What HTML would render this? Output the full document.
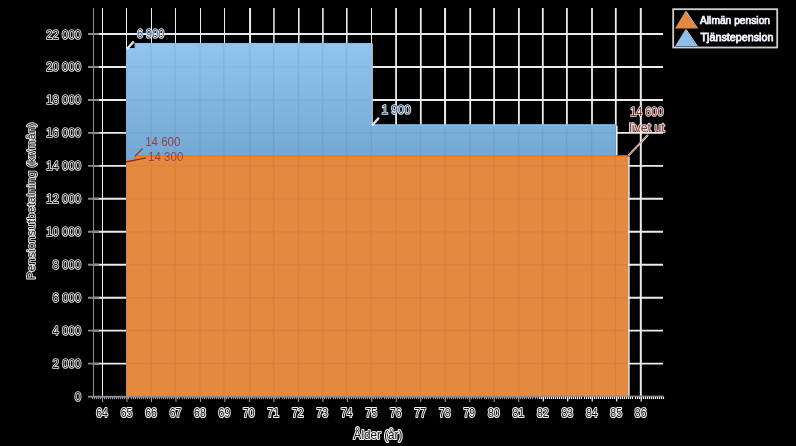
<!DOCTYPE html>
<html><head><meta charset="utf-8"><style>
html,body{margin:0;padding:0;background:#000;}
body{width:796px;height:446px;overflow:hidden;position:relative;font-family:"Liberation Sans",sans-serif;}
svg{position:absolute;left:0;top:0;will-change:transform;}
.h{paint-order:stroke;stroke:#ececec;stroke-width:1.7px;stroke-linejoin:round;}

.hl{paint-order:stroke;stroke:#fafafa;stroke-width:3px;stroke-linejoin:round;}
.hx{paint-order:stroke;stroke:#f4f4f4;stroke-width:2.1px;stroke-linejoin:round;}
.wl{stroke:#f6f6fa;stroke-width:0.75px;}
.hd{paint-order:stroke;stroke:#d0d0d0;stroke-width:1.5px;stroke-linejoin:round;}
</style></head><body>
<svg width="796" height="446" viewBox="0 0 796 446" font-family="Liberation Sans, sans-serif">
<defs>
<linearGradient id="bg" gradientUnits="userSpaceOnUse" x1="0" y1="43.5" x2="0" y2="161.3">
<stop offset="0" stop-color="#91c5ef"/><stop offset="1" stop-color="#73a7d3"/>
</linearGradient>
</defs>
<g fill="#ececec"><rect x="102" y="8" width="1.0" height="388"/><rect x="126" y="8" width="1.0" height="388"/><rect x="151" y="8" width="1.0" height="388"/><rect x="175" y="8" width="1.0" height="388"/><rect x="200" y="8" width="1.0" height="388"/><rect x="224" y="8" width="1.0" height="388"/><rect x="249.05" y="8" width="2.0" height="388"/><rect x="273.15" y="8" width="1.5" height="388"/><rect x="298" y="8" width="1.6" height="388"/><rect x="322.1" y="8" width="1.6" height="388"/><rect x="346" y="8" width="1.6" height="388"/><rect x="371" y="8" width="1.0" height="388"/><rect x="395.15" y="8" width="1.8" height="388"/><rect x="419.9" y="8" width="1.8" height="388"/><rect x="444.05" y="8" width="2.0" height="388"/><rect x="469.3" y="8" width="1.8" height="388"/><rect x="493.2" y="8" width="1.8" height="388"/><rect x="518" y="8" width="1.8" height="388"/><rect x="541.9" y="8" width="1.8" height="388"/><rect x="566" y="8" width="1.8" height="388"/><rect x="591.1" y="8" width="1.8" height="388"/><rect x="614.9" y="8" width="1.8" height="388"/><rect x="639.8" y="8" width="2.0" height="388"/></g>
<path d="M93,363.64H663M93,330.67H663M93,297.71H663M93,264.75H663M93,231.78H663M93,198.82H663M93,165.85H663M93,132.89H663M93,99.93H663M93,66.96H663M93,34H663" stroke="#ebebeb" stroke-width="1.9" fill="none"/>
<path d="M126.0,396.6 L126.0,161.3 L135.1,161.3 L135.1,156 L628.0,156 L628.0,396.6 Z" fill="#e48a40"/>
<path d="M126.0,161.3 L126.0,48.7 L135.1,48.7 L135.1,43.5 L371.8,43.5 L371.8,124.8 L616.0,124.8 L616.0,156 L135.1,156 L135.1,161.3 Z" fill="url(#bg)"/>
<path d="M125.9,43.5V396M151.2,43.5V396M175.1,43.5V396M200,43.5V396M223.9,43.5V396M249.75,43.5V396M273.6,43.5V396M298.5,43.5V396M322.6,43.5V396M346.5,43.5V396M371.4,43.5V396M395.75,43.5V396M420.5,43.5V396M444.75,43.5V396M469.9,43.5V396M493.8,43.5V396M518.6,43.5V396M542.5,43.5V396M566.6,43.5V396M591.7,43.5V396M615.5,43.5V396M126,363.64H628M126,330.67H628M126,297.71H628M126,264.75H628M126,231.78H628M126,198.82H628M126,165.85H628M126,132.89H628M126,99.93H628M126,66.96H628M126,34H628" stroke="rgba(0,0,0,0.06)" stroke-width="1.3" fill="none" clip-path="url(#cp)"/>
<clipPath id="cp"><path d="M126.0,396.6 L126.0,161.3 L135.1,161.3 L135.1,156 L628.0,156 L628.0,396.6 Z"/><path d="M126.0,161.3 L126.0,48.7 L135.1,48.7 L135.1,43.5 L371.8,43.5 L371.8,124.8 L616.0,124.8 L616.0,156 L135.1,156 L135.1,161.3 Z"/></clipPath>
<path d="M126.0,161.3 L135.1,161.3 L135.1,156 L628.0,156" fill="none" stroke="#e8791c" stroke-width="1.6"/>
<path d="M126.0,48.7 L135.1,48.7 L135.1,43.5 L371.8,43.5 M371.8,124.8 L616.0,124.8" fill="none" stroke="#80c2f4" stroke-width="1.2"/>
<path d="M628.9,156.5V396 M616.8,125.8V155" stroke="#f4f4f4" stroke-width="1.5" fill="none"/>
<path d="M372.4,43.5V124.8" stroke="#c4c4c4" stroke-width="1" fill="none"/>
<!-- axes -->
<path d="M93.5,8V397" stroke="#8a8a8a" stroke-width="1.1"/>
<path d="M88,363.64H99M88,330.67H99M88,297.71H99M88,264.75H99M88,231.78H99M88,198.82H99M88,165.85H99M88,132.89H99M88,99.93H99M88,66.96H99M88,34H99" stroke="#8a8a8a" stroke-width="1.9"/>
<rect x="88" y="395.8" width="450.6" height="1.8" fill="#8c8c96"/>
<rect x="538.6" y="395.6" width="124.9" height="1.2" fill="#8c8c96"/>
<path d="M92.5,397v2.2M94.5,397v2.2M96.5,397v2.2M98.5,397v2.2M100.5,397v2.2M102.5,397v2.2M104.5,397v2.2M106.5,397v2.2M108.5,397v2.2M110.5,397v2.2M112.5,397v2.2M114.5,397v2.2M116.5,397v2.2M118.5,397v2.2M120.5,397v2.2M122.5,397v2.2M124.5,397v2.2M126.5,397v2.2M128.5,397v2.2M131.5,397v2.2M133.5,397v2.2M135.5,397v2.2M137.5,397v2.2M139.5,397v2.2M141.5,397v2.2M143.5,397v2.2M145.5,397v2.2M147.5,397v2.2M149.5,397v2.2M151.5,397v2.2M153.5,397v2.2M155.5,397v2.2M157.5,397v2.2M159.5,397v2.2M161.5,397v2.2M163.5,397v2.2M165.5,397v2.2M167.5,397v2.2M169.5,397v2.2M171.5,397v2.2M173.5,397v2.2M175.5,397v2.2M177.5,397v2.2M179.5,397v2.2M182.5,397v2.2M184.5,397v2.2M186.5,397v2.2M188.5,397v2.2M190.5,397v2.2M192.5,397v2.2M194.5,397v2.2M196.5,397v2.2M198.5,397v2.2M200.5,397v2.2M202.5,397v2.2M204.5,397v2.2M206.5,397v2.2M208.5,397v2.2M210.5,397v2.2M212.5,397v2.2M214.5,397v2.2M216.5,397v2.2M218.5,397v2.2M220.5,397v2.2M222.5,397v2.2M224.5,397v2.2M226.5,397v2.2M228.5,397v2.2M231.5,397v2.2M233.5,397v2.2M235.5,397v2.2M237.5,397v2.2M239.5,397v2.2M241.5,397v2.2M243.5,397v2.2M245.5,397v2.2M247.5,397v2.2M249.5,397v2.2M251.5,397v2.2M253.5,397v2.2M255.5,397v2.2M257.5,397v2.2M259.5,397v2.2M261.5,397v2.2M263.5,397v2.2M265.5,397v2.2M267.5,397v2.2M269.5,397v2.2M271.5,397v2.2M273.5,397v2.2M275.5,397v2.2M277.5,397v2.2M279.5,397v2.2M282.5,397v2.2M284.5,397v2.2M286.5,397v2.2M288.5,397v2.2M290.5,397v2.2M292.5,397v2.2M294.5,397v2.2M296.5,397v2.2M298.5,397v2.2M300.5,397v2.2M302.5,397v2.2M304.5,397v2.2M306.5,397v2.2M308.5,397v2.2M310.5,397v2.2M312.5,397v2.2M314.5,397v2.2M316.5,397v2.2M318.5,397v2.2M320.5,397v2.2M322.5,397v2.2M324.5,397v2.2M326.5,397v2.2M328.5,397v2.2M330.5,397v2.2M333.5,397v2.2M335.5,397v2.2M337.5,397v2.2M339.5,397v2.2M341.5,397v2.2M343.5,397v2.2M345.5,397v2.2M347.5,397v2.2M349.5,397v2.2M351.5,397v2.2M353.5,397v2.2M355.5,397v2.2M357.5,397v2.2M359.5,397v2.2M361.5,397v2.2M363.5,397v2.2M365.5,397v2.2M367.5,397v2.2M369.5,397v2.2M371.5,397v2.2M373.5,397v2.2M375.5,397v2.2M377.5,397v2.2M379.5,397v2.2M381.5,397v2.2M384.5,397v2.2M386.5,397v2.2M388.5,397v2.2M390.5,397v2.2M392.5,397v2.2M394.5,397v2.2M396.5,397v2.2M398.5,397v2.2M400.5,397v2.2M402.5,397v2.2M404.5,397v2.2M406.5,397v2.2M408.5,397v2.2M410.5,397v2.2M412.5,397v2.2M414.5,397v2.2M416.5,397v2.2M418.5,397v2.2M420.5,397v2.2M422.5,397v2.2M424.5,397v2.2M426.5,397v2.2M428.5,397v2.2M430.5,397v2.2M433.5,397v2.2M435.5,397v2.2M437.5,397v2.2M439.5,397v2.2M441.5,397v2.2M443.5,397v2.2M445.5,397v2.2M447.5,397v2.2M449.5,397v2.2M451.5,397v2.2M453.5,397v2.2M455.5,397v2.2M457.5,397v2.2M459.5,397v2.2M461.5,397v2.2M463.5,397v2.2M465.5,397v2.2M467.5,397v2.2M469.5,397v2.2M471.5,397v2.2M473.5,397v2.2M475.5,397v2.2M477.5,397v2.2M479.5,397v2.2M481.5,397v2.2M484.5,397v2.2M486.5,397v2.2M488.5,397v2.2M490.5,397v2.2M492.5,397v2.2M494.5,397v2.2M496.5,397v2.2M498.5,397v2.2M500.5,397v2.2M502.5,397v2.2M504.5,397v2.2M506.5,397v2.2M508.5,397v2.2M510.5,397v2.2M512.5,397v2.2M514.5,397v2.2M516.5,397v2.2M518.5,397v2.2M520.5,397v2.2M522.5,397v2.2M524.5,397v2.2M526.5,397v2.2M528.5,397v2.2M530.5,397v2.2M532.5,397v2.2M535.5,397v2.2M537.5,397v2.2" stroke="#9c9cac" stroke-width="1"/>
<path d="M539.5,396.8v2.2M541.5,396.8v2.2M543.5,396.8v2.2M545.5,396.8v2.2M547.5,396.8v2.2M549.5,396.8v2.2M551.5,396.8v2.2M553.5,396.8v2.2M555.5,396.8v2.2M557.5,396.8v2.2M559.5,396.8v2.2M561.5,396.8v2.2M563.5,396.8v2.2M565.5,396.8v2.2M567.5,396.8v2.2M569.5,396.8v2.2M571.5,396.8v2.2M573.5,396.8v2.2M575.5,396.8v2.2M577.5,396.8v2.2M579.5,396.8v2.2M581.5,396.8v2.2M584.5,396.8v2.2M586.5,396.8v2.2M588.5,396.8v2.2M590.5,396.8v2.2M592.5,396.8v2.2M594.5,396.8v2.2M596.5,396.8v2.2M598.5,396.8v2.2M600.5,396.8v2.2M602.5,396.8v2.2M604.5,396.8v2.2M606.5,396.8v2.2M608.5,396.8v2.2M610.5,396.8v2.2M612.5,396.8v2.2M614.5,396.8v2.2M616.5,396.8v2.2M618.5,396.8v2.2M620.5,396.8v2.2M622.5,396.8v2.2M624.5,396.8v2.2M626.5,396.8v2.2M628.5,396.8v2.2M630.5,396.8v2.2M632.5,396.8v2.2M635.5,396.8v2.2M637.5,396.8v2.2M639.5,396.8v2.2M641.5,396.8v2.2M643.5,396.8v2.2M645.5,396.8v2.2M647.5,396.8v2.2M649.5,396.8v2.2M651.5,396.8v2.2M653.5,396.8v2.2M655.5,396.8v2.2M657.5,396.8v2.2M659.5,396.8v2.2M661.5,396.8v2.2M663.5,396.8v2.2" stroke="#f4f4f4" stroke-width="1.2"/>
<path d="M102.51,396V402M126.99,396V402M151.48,396V402M175.96,396V402M200.45,396V402M224.93,396V402M249.42,396V402M273.9,396V402M298.39,396V402M322.88,396V402M347.36,396V402M371.85,396V402M396.33,396V402M420.82,396V402M445.3,396V402M469.79,396V402M494.27,396V402M518.76,396V402" stroke="#a0a0aa" stroke-width="1"/>
<path d="M543.25,397V401.6M567.73,397V401.6M592.22,397V401.6M616.7,397V401.6M641.19,397V401.6" stroke="#f4f4f4" stroke-width="1.2"/>
<!-- labels -->
<g class="h"><text transform="translate(81.2,401.1) scale(0.9,1)" font-size="12.7" text-anchor="end" fill="#161616">0</text><text transform="translate(81.2,368.14) scale(0.9,1)" font-size="12.7" text-anchor="end" fill="#161616">2 000</text><text transform="translate(81.2,335.17) scale(0.9,1)" font-size="12.7" text-anchor="end" fill="#161616">4 000</text><text transform="translate(81.2,302.21) scale(0.9,1)" font-size="12.7" text-anchor="end" fill="#161616">6 000</text><text transform="translate(81.2,269.25) scale(0.9,1)" font-size="12.7" text-anchor="end" fill="#161616">8 000</text><text transform="translate(81.2,236.28) scale(0.9,1)" font-size="12.7" text-anchor="end" fill="#161616">10 000</text><text transform="translate(81.2,203.32) scale(0.9,1)" font-size="12.7" text-anchor="end" fill="#161616">12 000</text><text transform="translate(81.2,170.35) scale(0.9,1)" font-size="12.7" text-anchor="end" fill="#161616">14 000</text><text transform="translate(81.2,137.39) scale(0.9,1)" font-size="12.7" text-anchor="end" fill="#161616">16 000</text><text transform="translate(81.2,104.43) scale(0.9,1)" font-size="12.7" text-anchor="end" fill="#161616">18 000</text><text transform="translate(81.2,71.46) scale(0.9,1)" font-size="12.7" text-anchor="end" fill="#161616">20 000</text><text transform="translate(81.2,38.5) scale(0.9,1)" font-size="12.7" text-anchor="end" fill="#161616">22 000</text></g>
<g class="hx"><text transform="translate(101.96,417.4) scale(0.86,1)" font-size="12.1" text-anchor="middle" fill="#161616">64</text><text transform="translate(126.44,417.4) scale(0.86,1)" font-size="12.1" text-anchor="middle" fill="#161616">65</text><text transform="translate(150.93,417.4) scale(0.86,1)" font-size="12.1" text-anchor="middle" fill="#161616">66</text><text transform="translate(175.41,417.4) scale(0.86,1)" font-size="12.1" text-anchor="middle" fill="#161616">67</text><text transform="translate(199.9,417.4) scale(0.86,1)" font-size="12.1" text-anchor="middle" fill="#161616">68</text><text transform="translate(224.38,417.4) scale(0.86,1)" font-size="12.1" text-anchor="middle" fill="#161616">69</text><text transform="translate(248.87,417.4) scale(0.86,1)" font-size="12.1" text-anchor="middle" fill="#161616">70</text><text transform="translate(273.35,417.4) scale(0.86,1)" font-size="12.1" text-anchor="middle" fill="#161616">71</text><text transform="translate(297.84,417.4) scale(0.86,1)" font-size="12.1" text-anchor="middle" fill="#161616">72</text><text transform="translate(322.33,417.4) scale(0.86,1)" font-size="12.1" text-anchor="middle" fill="#161616">73</text><text transform="translate(346.81,417.4) scale(0.86,1)" font-size="12.1" text-anchor="middle" fill="#161616">74</text><text transform="translate(371.3,417.4) scale(0.86,1)" font-size="12.1" text-anchor="middle" fill="#161616">75</text><text transform="translate(395.78,417.4) scale(0.86,1)" font-size="12.1" text-anchor="middle" fill="#161616">76</text><text transform="translate(420.27,417.4) scale(0.86,1)" font-size="12.1" text-anchor="middle" fill="#161616">77</text><text transform="translate(444.75,417.4) scale(0.86,1)" font-size="12.1" text-anchor="middle" fill="#161616">78</text><text transform="translate(469.24,417.4) scale(0.86,1)" font-size="12.1" text-anchor="middle" fill="#161616">79</text><text transform="translate(493.72,417.4) scale(0.86,1)" font-size="12.1" text-anchor="middle" fill="#161616">80</text><text transform="translate(518.21,417.4) scale(0.86,1)" font-size="12.1" text-anchor="middle" fill="#161616">81</text><text transform="translate(542.69,417.4) scale(0.86,1)" font-size="12.1" text-anchor="middle" fill="#161616">82</text><text transform="translate(567.18,417.4) scale(0.86,1)" font-size="12.1" text-anchor="middle" fill="#161616">83</text><text transform="translate(591.67,417.4) scale(0.86,1)" font-size="12.1" text-anchor="middle" fill="#161616">84</text><text transform="translate(616.15,417.4) scale(0.86,1)" font-size="12.1" text-anchor="middle" fill="#161616">85</text><text transform="translate(640.64,417.4) scale(0.86,1)" font-size="12.1" text-anchor="middle" fill="#161616">86</text></g>
<g class="h">
<text transform="translate(378,439.2) scale(0.97,1)" font-size="12.1" text-anchor="middle" class="hx" fill="#161616">Ålder (år)</text>
<text class="h" transform="translate(34.5,201) rotate(-90) scale(1.12,1)" font-size="10.8" text-anchor="middle" fill="#161616">Pensionsutbetalning (kr/mån)</text>
</g>
<!-- data labels -->
<g fill="none">
<path d="M126.7,49.2 L133.8,41.4 M372.1,125.4 L378.9,117.8" stroke="#f2f6fa" stroke-width="2.3"/>
<path d="M126.7,49.2 L133.8,41.4 M372.1,125.4 L378.9,117.8" stroke="#5a88bc" stroke-width="0.6" stroke-dasharray="1 1.2"/>
<path d="M126.0,161.9 L146,157.8" stroke="#8a2e2e" stroke-width="1.2"/>
<path d="M135.1,156 L142.7,148.3" stroke="#8a2e2e" stroke-width="1.2"/>
<path d="M628.3,155.7 L648,135" stroke="#efe2e2" stroke-width="1.9"/>
<path d="M628.3,155.7 L648,135" stroke="#a04848" stroke-width="0.7"/>
</g>
<text transform="translate(137,37.6) scale(0.88,1)" font-size="12.4" class="h" fill="#35608c">6 900</text>
<text transform="translate(381.4,113.8) scale(0.95,1)" font-size="12.4" class="h" fill="#35608c">1 900</text>
<text transform="translate(145.2,145.7) scale(0.9,1)" font-size="12.8" fill="#934249">14 600</text>
<text transform="translate(148.1,161.4) scale(0.9,1)" font-size="12.8" fill="#934249">14 300</text>
<text transform="translate(646.8,116.2) scale(0.88,1)" font-size="12.4" text-anchor="middle" class="h" fill="#8c2e2e">14 600</text>
<text x="646.9" y="132.2" font-size="12.4" text-anchor="middle" class="h" fill="#8c2e2e">livet ut</text>
<!-- legend -->
<rect x="673.2" y="9.2" width="104" height="38.3" fill="none" stroke="#cfcfcf" stroke-width="1.8"/>
<path d="M685.5,11 L697,28.4 L675,28.4 Z" fill="#e48a40"/>
<path d="M685.5,29.2 L697,46.3 L675,46.3 Z" fill="#8cc0ea"/>
<path d="M686,11.2 L697.6,28.4 M686,29.4 L697.6,46.4" stroke="#f0f0f0" stroke-width="0.9" fill="none"/>
<g fill="#1c1c4a" transform="translate(-0.7,0.2)">
<text transform="translate(700,23.8) scale(0.9,1)" font-size="11.4" fill="#1c1c4a">Allmän pension</text>
<text transform="translate(700.5,41.3) scale(0.945,1)" font-size="11.4" fill="#1c1c4a">Tjänstepension</text>
</g>
<g class="wl">
<text transform="translate(700,23.8) scale(0.9,1)" font-size="11.4" class="wl" fill="#f6f6fa">Allmän pension</text>
<text transform="translate(700.5,41.3) scale(0.945,1)" font-size="11.4" class="wl" fill="#f6f6fa">Tjänstepension</text>
</g>
</svg>
</body></html>
